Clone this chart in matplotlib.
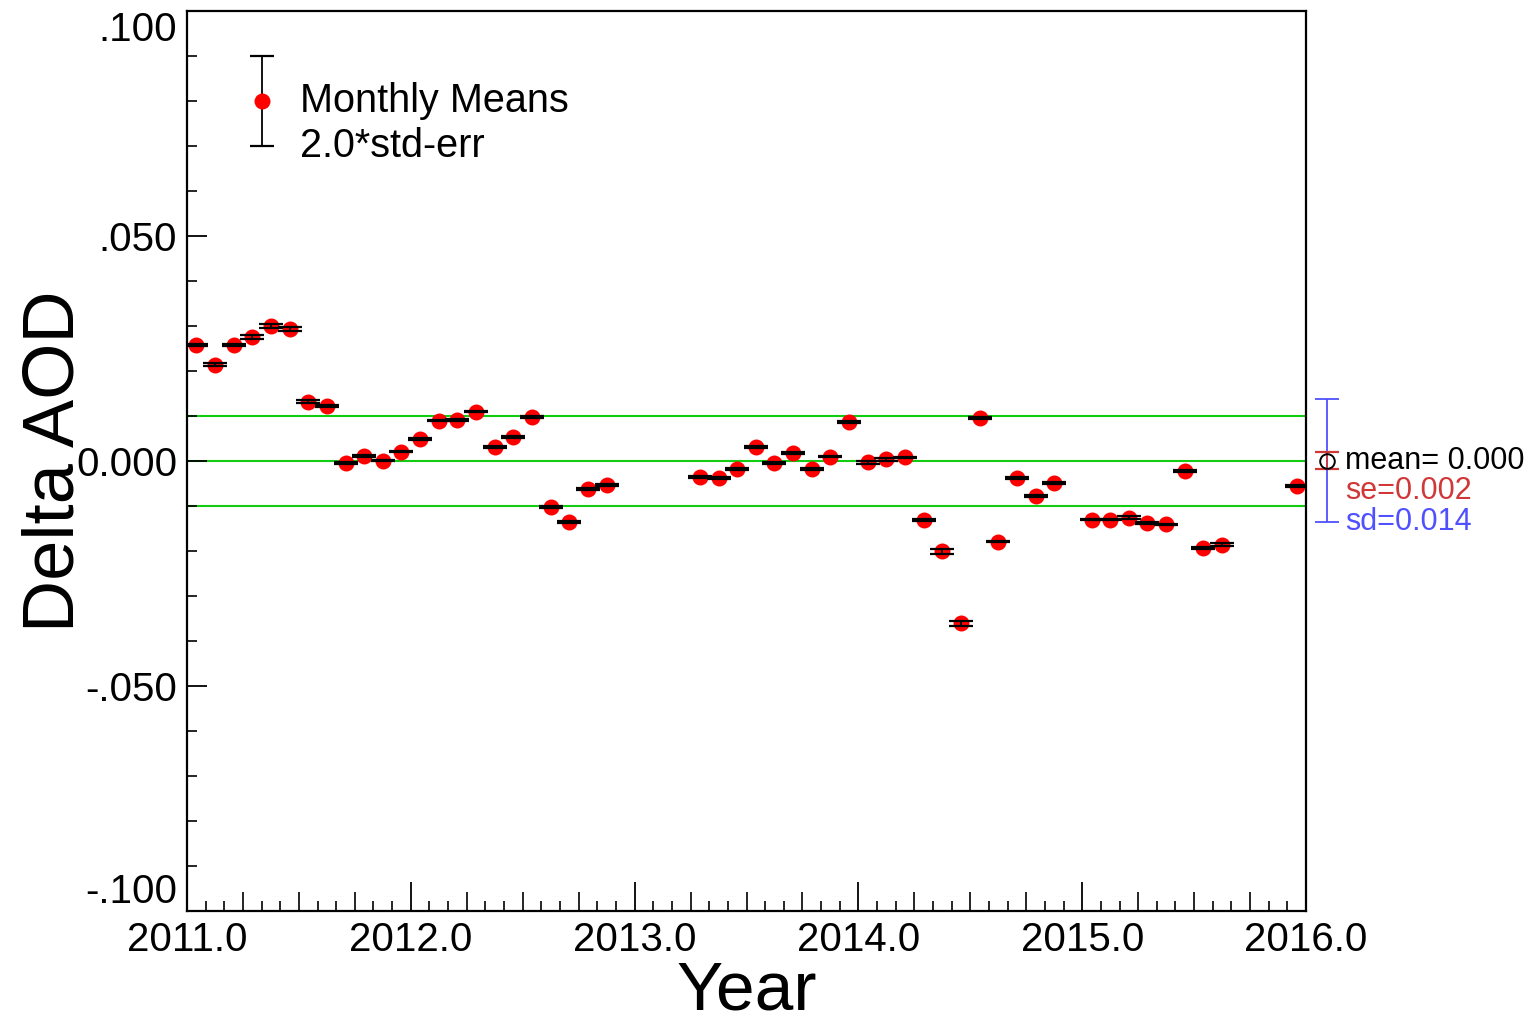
import matplotlib.pyplot as plt
import numpy as np
from matplotlib.ticker import MultipleLocator, FuncFormatter

plt.rcParams['font.family'] = ['Liberation Sans', 'DejaVu Sans']

# monthly means of delta AOD, month numbers per year
months_2011 = [1, 2, 3, 4, 5, 6, 7, 8, 9, 10, 11, 12]
delta_2011 = [0.0258, 0.0214, 0.0258, 0.0275, 0.0300, 0.0293,
              0.0132, 0.0122, -0.0004, 0.0012, 0.0001, 0.0021]
err_2011 = [0.0003, 0.0003, 0.0003, 0.0004, 0.0004, 0.0004,
            0.0003, 0.0002, 0.0002, 0.0002, 0.0002, 0.0002]

months_2012 = [1, 2, 3, 4, 5, 6, 7, 8, 9, 10, 11]
delta_2012 = [0.0049, 0.0090, 0.0092, 0.0110, 0.0031, 0.0054,
              0.0097, -0.0102, -0.0136, -0.0063, -0.0054]
err_2012 = [0.0002, 0.0002, 0.0002, 0.0002, 0.0002, 0.0002,
            0.0002, 0.0002, 0.0002, 0.0002, 0.0002]

months_2013 = [4, 5, 6, 7, 8, 9, 10, 11, 12]
delta_2013 = [-0.0036, -0.0038, -0.0017, 0.0031, -0.0004, 0.0017,
              -0.0017, 0.0010, 0.0086]
err_2013 = [0.0002, 0.0002, 0.0002, 0.0002, 0.0002, 0.0002,
            0.0002, 0.0002, 0.0002]

months_2014 = [1, 2, 3, 4, 5, 6, 7, 8, 9, 10, 11]
delta_2014 = [-0.0003, 0.0004, 0.0008, -0.0131, -0.0201, -0.0361,
              0.0096, -0.0179, -0.0038, -0.0078, -0.0049]
err_2014 = [0.0003, 0.0003, 0.0002, 0.0003, 0.0006, 0.0006,
            0.0002, 0.0002, 0.0002, 0.0002, 0.0002]

months_2015 = [1, 2, 3, 4, 5, 6, 7, 8, 12]
delta_2015 = [-0.0130, -0.0130, -0.0126, -0.0138, -0.0141, -0.0023,
              -0.0193, -0.0186, -0.0055]
err_2015 = [0.0002, 0.0002, 0.0003, 0.0002, 0.0002, 0.0002,
            0.0002, 0.0003, 0.0002]

year_ticks = [2011, 2012, 2013, 2014, 2015, 2016]
band = 0.01

years = ([2011] * len(months_2011) + [2012] * len(months_2012) + [2013] * len(months_2013)
         + [2014] * len(months_2014) + [2015] * len(months_2015))
months = months_2011 + months_2012 + months_2013 + months_2014 + months_2015
delta = np.array(delta_2011 + delta_2012 + delta_2013 + delta_2014 + delta_2015)
err = np.array(err_2011 + err_2012 + err_2013 + err_2014 + err_2015)
t = np.array(years) + (np.array(months) - 0.5) / 12.0

mean = delta.mean()
sd = delta.std(ddof=1)
se = sd / np.sqrt(len(delta))

W, H = 1536, 1019
fig = plt.figure(figsize=(W / 100, H / 100), dpi=100)
ax = fig.add_axes([187 / W, 1 - 911 / H, 1119 / W, 900 / H])

# reference lines
for lvl in (-band, 0.0, band):
    ax.axhline(lvl, color='#11cc11', lw=1.5, zorder=1)

ax.plot(t, delta, 'o', color='#ff0000', ms=11.5, mec='none', zorder=3)
ax.errorbar(t, delta, yerr=err, fmt='none', ecolor='black', elinewidth=1.3,
            capsize=8.6, capthick=1.6, zorder=4)

# summary bars outside the frame
xs = 2016.094
parts = []
parts.append(ax.errorbar([xs], [mean], yerr=[sd], fmt='none', ecolor='#5050ff',
                         elinewidth=1.3, capsize=8.6, capthick=1.3))
parts.append(ax.errorbar([xs], [mean], yerr=[se], fmt='none', ecolor='#d03838',
                         elinewidth=1.3, capsize=8.6, capthick=1.6))
parts.append(ax.plot([xs], [mean], 'o', mfc='none', mec='black', ms=10.5, mew=1.4))
for p in parts:
    for a in (p.get_children() if hasattr(p, 'get_children') else p):
        a.set_clip_on(False)

sx = 1345 / W
fig.text(sx, 1 - 461 / H, 'mean= %.3f' % abs(mean), fontsize=22, color='black',
         va='center', ha='left')
fig.text(sx, 1 - 491 / H, 'se=%.3f' % se, fontsize=22, color='#d03838',
         va='center', ha='left')
fig.text(sx, 1 - 522 / H, 'sd=%.3f' % sd, fontsize=22, color='#5050ff',
         va='center', ha='left')

# legend key
ax.errorbar([0.067], [0.9], yerr=[0.05], fmt='o', color='#ff0000', ms=11.5, mec='none',
            ecolor='black', elinewidth=1.3, capsize=8.6, capthick=1.6,
            transform=ax.transAxes, clip_on=False)
ax.text(0.101, 0.9, 'Monthly Means', transform=ax.transAxes, fontsize=28.5, va='center')
ax.text(0.101, 0.85, '2.0*std-err', transform=ax.transAxes, fontsize=28.5, va='center')

ax.set_xlim(2011, 2016)
ax.set_ylim(-0.1, 0.1)

ax.set_xticks(year_ticks)
ax.set_xticklabels(['%.1f' % y for y in year_ticks])
month_ticks = [2011 + k / 12.0 for k in range(61) if k % 3 != 0]
ax.set_xticks(month_ticks, minor=True)

ax.set_yticks([-0.1, -0.05, 0.0, 0.05, 0.1])
ax.yaxis.set_minor_locator(MultipleLocator(0.01))


def yfmt(v, pos):
    if abs(v) < 1e-9:
        return '0.000'
    return ('%.3f' % v).replace('0.', '.', 1)


ax.yaxis.set_major_formatter(FuncFormatter(yfmt))

ax.tick_params(which='both', direction='in', top=False, right=False, labelsize=29)
ax.tick_params(axis='x', which='major', length=21, width=1.3, pad=7)
ax.tick_params(axis='x', which='minor', length=7.2, width=1.2)
ax.tick_params(axis='y', which='major', length=14.4, width=1.3, pad=7)
ax.tick_params(axis='y', which='minor', length=7.2, width=1.2)

# quarter ticks, medium length
sec = ax.secondary_xaxis('bottom')
sec.set_xticks([2011 + k / 4.0 for k in range(21) if k % 4 != 0])
sec.tick_params(direction='in', length=13.7, width=1.2, labelbottom=False)
sec.spines['bottom'].set_visible(False)

yt = ax.yaxis.get_major_ticks()
yt[0].label1.set_verticalalignment('bottom')
yt[-1].label1.set_verticalalignment('top')

for s in ax.spines.values():
    s.set_linewidth(1.6)

fig.text(747 / W, 1 - 1010 / H, 'Year', fontsize=50, ha='center', va='baseline')
fig.text(73 / W, 1 - 461 / H, 'Delta AOD', fontsize=52, rotation=90,
         rotation_mode='anchor', ha='center', va='baseline')

fig.savefig('out.png', dpi=100)
